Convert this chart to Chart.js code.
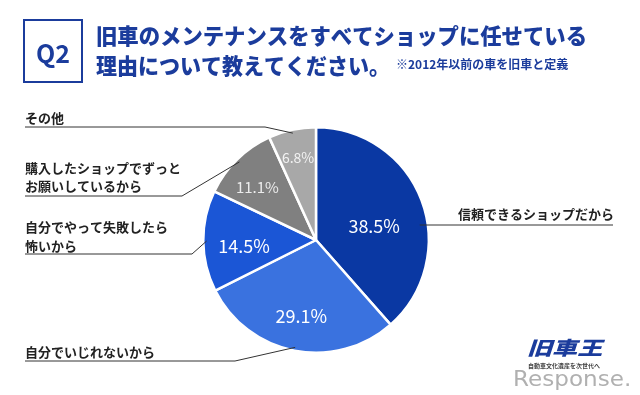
<!DOCTYPE html>
<html>
<head>
<meta charset="utf-8">
<script src="https://cdn.jsdelivr.net/npm/chart.js@4.4.1/dist/chart.umd.min.js"></script>
<style>
    html, body { margin: 0; padding: 0; background: #fff; }
    #wrap { width: 640px; height: 395px; position: relative; }
</style>
</head>
<body>
<div id="wrap"><canvas id="pieChart"></canvas></div>
<script>
// Data
const categories = [
    ['信頼できるショップだから'],
    ['自分でいじれないから'],
    ['自分でやって失敗したら', '怖いから'],
    ['購入したショップでずっと', 'お願いしているから'],
    ['その他']
];
const shares = [38.5, 29.1, 14.5, 11.1, 6.8];
const sliceColors = ['#0a38a3', '#3a72df', '#1b56d6', '#808080', '#a8a8a8'];
const percentColors = ['#ffffff', '#ffffff', '#ffffff', '#ececec', '#f2f2f2'];
const questionTag = 'Q2';
const titleLines = ['旧車のメンテナンスをすべてショップに任せている', '理由について教えてください。'];
const titleNote = '※2012年以前の車を旧車と定義';

const JP = '"Noto Sans CJK JP", "Noto Sans", sans-serif';
const NAVY = '#1b3c9c';

// label placement (text lines y, underline y, elbow x)
const labelLayout = [
    { side: 'right', x: 458, ys: [214], lineY: 225, endX: 613 },
    { side: 'left', x: 25, ys: [352], lineY: 361, elbowX: 235 },
    { side: 'left', x: 25, ys: [227, 246], lineY: 254, elbowX: 192 },
    { side: 'left', x: 25, ys: [168, 186], lineY: 196, elbowX: 182 },
    { side: 'left', x: 25, ys: [118], lineY: 127, elbowX: 265 }
];
const pctLayout = [
    { f: 0.53, off: 0.13, size: 18 },
    { f: 0.69, off: 0, size: 18 },
    { f: 0.64, off: -0.08, size: 18 },
    { f: 0.70, off: -0.06, size: 15 },
    { f: 0.75, off: 0, size: 14 }
];

const overlayPlugin = {
    id: 'overlay',
    afterDraw(chart) {
        const ctx = chart.ctx;
        ctx.save();

        // Header box
        ctx.strokeStyle = NAVY;
        ctx.lineWidth = 2;
        ctx.strokeRect(24, 20, 58, 62);
        ctx.fillStyle = NAVY;
        ctx.font = 'bold 25px ' + JP;
        ctx.textAlign = 'center';
        ctx.textBaseline = 'middle';
        ctx.fillText(questionTag, 53, 53);

        // Title
        ctx.textAlign = 'left';
        ctx.font = '900 22px ' + JP;
        ctx.fillText(titleLines[0], 96, 36, 491);
        ctx.fillText(titleLines[1], 96, 66, 294);
        ctx.font = 'bold 12px ' + JP;
        ctx.fillText(titleNote, 396, 64, 178);

        // Slices: leader lines, labels, percents
        const meta = chart.getDatasetMeta(0);
        meta.data.forEach((arc, i) => {
            const p = arc.getProps(['x', 'y', 'startAngle', 'endAngle', 'outerRadius'], true);
            const mid = (p.startAngle + p.endAngle) / 2;
            const lay = labelLayout[i];

            ctx.strokeStyle = '#333';
            ctx.lineWidth = 1;
            ctx.beginPath();
            if (lay.side === 'right') {
                const rr = p.outerRadius * 0.93;
                const dy = lay.lineY - p.y;
                const ax = p.x + Math.sqrt(rr * rr - dy * dy);
                ctx.moveTo(ax, lay.lineY);
                ctx.lineTo(lay.endX, lay.lineY);
            } else {
                const ax = p.x + Math.cos(mid) * p.outerRadius * 0.97;
                const ay = p.y + Math.sin(mid) * p.outerRadius * 0.97;
                ctx.moveTo(lay.x, lay.lineY);
                ctx.lineTo(lay.elbowX, lay.lineY);
                ctx.lineTo(ax, ay);
            }
            ctx.stroke();

            ctx.fillStyle = '#222';
            ctx.font = 'bold 13px ' + JP;
            ctx.textAlign = 'left';
            ctx.textBaseline = 'middle';
            categories[i].forEach((line, k) => ctx.fillText(line, lay.x, lay.ys[k]));

            const pl = pctLayout[i];
            const a = mid + pl.off;
            const px = p.x + Math.cos(a) * p.outerRadius * pl.f;
            const py = p.y + Math.sin(a) * p.outerRadius * pl.f;
            ctx.fillStyle = percentColors[i];
            ctx.font = pl.size + 'px ' + JP;
            ctx.textAlign = 'center';
            ctx.fillText(shares[i].toFixed(1) + '%', px, py);
        });

        // Logo
        ctx.textAlign = 'left';
        ctx.save();
        ctx.translate(527, 348);
        ctx.scale(1.32, 1);
        ctx.fillStyle = NAVY;
        ctx.font = 'italic 900 19px ' + JP;
        ctx.fillText('旧車王', 0, 0);
        ctx.restore();
        ctx.font = 'bold 6px ' + JP;
        ctx.fillStyle = '#444';
        ctx.fillText('自動車文化遺産を次世代へ', 528, 366, 74);
        ctx.save();
        ctx.translate(513, 381);
        ctx.scale(1.1, 1);
        ctx.fillStyle = '#b0b0b0';
        ctx.font = '21px "DejaVu Sans", sans-serif';
        ctx.fillText('Response.', 0, 0);
        ctx.restore();

        ctx.restore();
    }
};

const pieCtx = document.getElementById('pieChart').getContext('2d');
const pieChart = new Chart(pieCtx, {
    type: 'pie',
    data: {
        labels: categories,
        datasets: [{
            data: shares,
            backgroundColor: sliceColors,
            borderColor: '#ffffff',
            borderWidth: 2.5
        }]
    },
    options: {
        responsive: true,
        maintainAspectRatio: false,
        animation: false,
        layout: { padding: { top: 126, bottom: 41, left: 100, right: 108 } },
        plugins: {
            legend: { display: false },
            tooltip: { enabled: false }
        }
    },
    plugins: [overlayPlugin]
});
</script>
</body>
</html>
